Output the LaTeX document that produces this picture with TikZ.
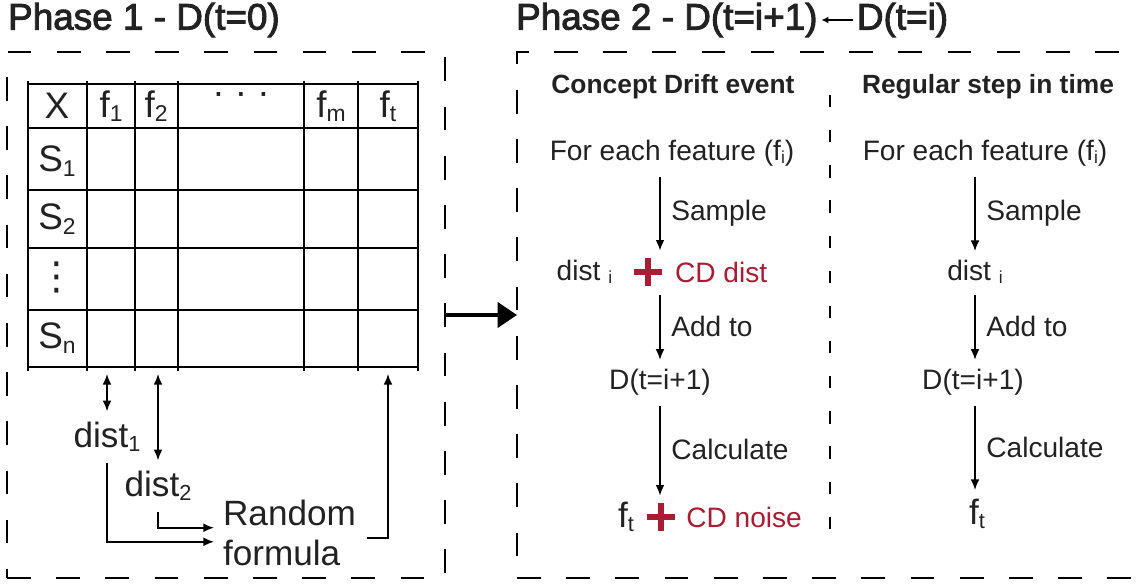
\documentclass[tikz,border=0pt]{standalone}
\usepackage{fontspec}
\setmainfont{Liberation Sans}
\newfontfamily\titlefont[FakeBold=2.5]{Liberation Sans}
\newfontfamily\symfont{DejaVu Sans}
\usepackage{graphicx}
\usepackage{tikz}
\usetikzlibrary{arrows.meta,positioning}
\definecolor{cdred}{RGB}{168,28,52}
\definecolor{ink}{RGB}{34,34,34}
\newcommand{\sub}[1]{\raisebox{-0.12em}{\scalebox{0.62}{#1}}}

\begin{document}
\begin{tikzpicture}[x=0.02cm, y=-0.02cm,
  every node/.style = {text=ink, inner sep=1pt},
  phase/.style = {font=\titlefont\fontsize{21}{25}\selectfont, anchor=west},
  phasebox/.style = {draw, dash pattern=on 13.5pt off 14.5pt, line width=1.1pt,
    inner sep=0pt, outer sep=0pt},
  grid/.style = {line width=1.1pt},
  cell/.style = {font=\fontsize{21}{24}\selectfont},
  txt/.style = {font=\fontsize{16}{19}\selectfont},
  big/.style = {font=\fontsize{20}{23}\selectfont},
  head/.style = {font=\bfseries\fontsize{15}{18}\selectfont},
  cdtxt/.style = {txt, text=cdred},
  flow/.style = {-{Latex[length=6pt,width=5pt]}, line width=0.9pt,
    shorten >=4pt, shorten <=5pt},
  both/.style = {flow, {Latex[length=6pt,width=5pt]}-{Latex[length=6pt,width=5pt]}},
  steplabel/.style = {txt, right=5pt, midway},
  bigarrow/.style = {-{Triangle[length=11pt,width=14pt]}, line width=2.6pt},
  divider/.style = {line width=1pt, dash pattern=on 7pt off 13pt},
  plusmark/.style = {minimum size=16pt, inner sep=0pt,
    path picture={\draw[cdred, line width=2.9pt]
      (path picture bounding box.north) -- (path picture bounding box.south)
      (path picture bounding box.west) -- (path picture bounding box.east);}}]
  \useasboundingbox (0,0) rectangle (1140,584);

  \node[phase] (ph1) at (6,20) {Phase 1 - D(t=0)};
  \node[phase] (ph2) at (514,20) {Phase 2 - D(t=i+1)};
  \node[phase, right=20pt of ph2] (ph2b) {D(t=i)};
  \draw[-{Latex[length=4pt,width=4pt]}, line width=0.9pt, shorten >=1pt, shorten <=1pt]
    (ph2b.west) -- (ph2.east);

  \node[phasebox, minimum width=8.76cm, minimum height=10.52cm] (box1) at (226,315) {};
  \node[phasebox, minimum width=13.06cm, minimum height=10.52cm] (box2) at (843.5,315) {};
  \draw[bigarrow] (box1.east) -- (box2.west);

  % table
  \foreach \y in {84,128,190,248,310,367}
    \draw[grid] (28,\y) -- (418,\y);
  \foreach \x in {28,87,135,178,304,358,418}
    \draw[grid] (\x,81) -- (\x,371);
  \coordinate (tbot) at (0,367);
  \node[cell] (hx) at (57,106) {X};
  \node[cell] (hf1) at (111,106) {f\sub{1}};
  \node[cell] (hf2) at (156,106) {f\sub{2}};
  \node[cell] (hdots) at (241,99) {\textperiodcentered\ \textperiodcentered\ \textperiodcentered};
  \node[cell] (hfm) at (331,106) {f\sub{m}};
  \node[cell] (hft) at (388,106) {f\sub{t}};
  \node[cell] (s1) at (57,161) {S\sub{1}};
  \node[cell] (s2) at (57,219) {S\sub{2}};
  \node[cell, font=\symfont\fontsize{22}{24}\selectfont] (sdots) at (57,277) {⋮};
  \node[cell] (sn) at (57,338) {S\sub{n}};

  \node[big] (dist1) at (107,437) {dist\sub{1}};
  \node[big] (dist2) at (158,486) {dist\sub{2}};
  \node[big, align=left, anchor=west] (rf) at (221,533) {Random\\formula};
  \draw[both] (dist1.north) -- (dist1.north |- tbot);
  \draw[both] (dist2.north) -- (dist2.north |- tbot);
  \draw[flow] (dist1.south) |- ([yshift=-5pt]rf.west);
  \draw[flow] (dist2.south) |- ([yshift=3pt]rf.west);
  \draw[flow] ([yshift=-3pt]rf.east) -| (hft |- tbot);

  \draw[divider] (830,95) -- (830,548);

  \node[head] (cde) at (673,87) {Concept Drift event};
  \node[head] (rst) at (988,87) {Regular step in time};
  \coordinate (c1) at (660,0);
  \coordinate (c2) at (975,0);

  \node[txt] (fe1) at (672,153) {For each feature (f\sub{i})};
  \node[plusmark] (p1) at (648,272) {};
  \node[txt, left=11pt of p1] (di1) {dist \sub{i}};
  \node[cdtxt, right=6pt of p1] (cdd) {CD dist};
  \node[txt] (dn1) at (660,382) {D(t=i+1)};
  \node[plusmark] (p2) at (661,517) {};
  \node[big, left=6pt of p2] (ft1) {f\sub{t}};
  \node[cdtxt, right=5pt of p2] (cdn) {CD noise};
  \draw[flow] (fe1.south -| c1) -- node[steplabel] {Sample} (p1.north -| c1);
  \draw[flow] (p1.south -| c1) -- node[steplabel] {Add to} (dn1.north -| c1);
  \draw[flow] (dn1.south -| c1) -- node[steplabel] {Calculate} (p2.north -| c1);

  \node[txt] (fe2) at (985,153) {For each feature (f\sub{i})};
  \node[txt] (di2) at (975,272) {dist \sub{i}};
  \node[txt] (dn2) at (973,382) {D(t=i+1)};
  \node[big] (ft2) at (977,514) {f\sub{t}};
  \draw[flow] (fe2.south -| c2) -- node[steplabel] {Sample} (di2.north -| c2);
  \draw[flow] (di2.south -| c2) -- node[steplabel] {Add to} (dn2.north -| c2);
  \draw[flow] (dn2.south -| c2) -- node[steplabel] {Calculate} (ft2.north -| c2);
\end{tikzpicture}
\end{document}
